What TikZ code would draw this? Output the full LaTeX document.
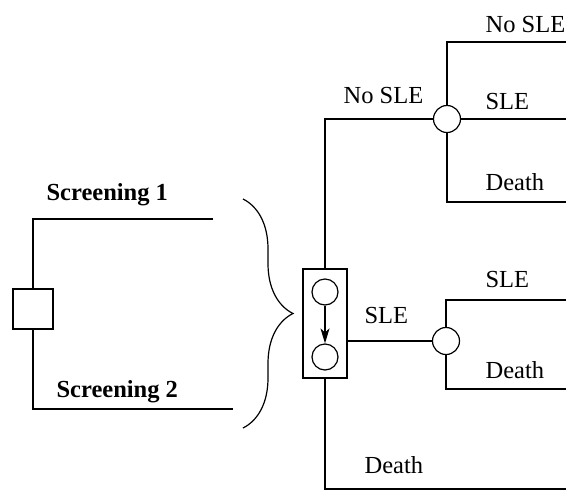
\documentclass[tikz,border=0pt]{standalone}
\usepackage{fontspec}
\setmainfont{Liberation Serif}
\usetikzlibrary{positioning,arrows.meta,decorations.pathreplacing}

\begin{document}
\begin{tikzpicture}[x=1pt,y=-1pt,line width=1.2pt,
    font=\fontsize{24.5}{29}\selectfont,
    decision/.style={draw,rectangle,minimum size=40pt,inner sep=0pt},
    chance/.style={draw,circle,minimum size=27pt,inner sep=0pt},
    markov/.style={draw,rectangle,minimum width=44pt,minimum height=109pt,inner sep=0pt},
    lbl/.style={anchor=base west,inner sep=0pt}]
   \useasboundingbox (0,0) rectangle (566,491);
   % decision between the two screenings
   \node[decision] (dec) at (33,309) {};
   \coordinate (scr1) at (213,219);
   \coordinate (scr2) at (233,409);
   \draw (dec) |- (scr1);
   \draw (dec) |- (scr2);
   \node[lbl,font=\fontsize{24.5}{29}\selectfont\bfseries] (lscr1) at (46,200) {Screening 1};
   \node[lbl,font=\fontsize{24.5}{29}\selectfont\bfseries] (lscr2) at (56,397) {Screening 2};
   \draw[decorate,decoration={brace,amplitude=50pt,aspect=0.5}] (243,199) -- (243,428);

   % markov node
   \node[markov] (mk) at (325,323.5) {};
   \node[chance,minimum size=26pt] (m1) at (325,292) {};
   \node[chance,minimum size=26pt] (m2) at (325,357) {};
   \draw[-{Stealth[length=15pt,width=9pt,inset=4pt]}] (m1) -- (m2);

   % no SLE
   \node[chance] (c1) at (447,119) {};
   \coordinate (e1) at (566,42);
   \coordinate (e2) at (566,119);
   \coordinate (e3) at (566,202);
   \draw (mk.north) |- (c1);
   \draw (c1) |- (e1);
   \draw (c1) -- (e2);
   \draw (c1) |- (e3);
   \node[lbl] (l1) at (343,103) {No SLE};
   \node[lbl] (l2) at (485,32) {No SLE};
   \node[lbl] (l3) at (485,109) {SLE};
   \node[lbl] (l4) at (485,190) {Death};

   % SLE
   \node[chance] (c2) at (446,341) {};
   \coordinate (e4) at (566,300);
   \coordinate (e5) at (566,389);
   \draw (c2) -- (c2 -| mk.east);
   \draw (c2) |- (e4);
   \draw (c2) |- (e5);
   \node[lbl] (l5) at (364,323) {SLE};
   \node[lbl] (l6) at (485,287) {SLE};
   \node[lbl] (l7) at (485,378) {Death};

   % death
   \coordinate (e6) at (566,489);
   \draw (mk.south) |- (e6);
   \node[lbl] (l8) at (364,473) {Death};
\end{tikzpicture}
\end{document}
